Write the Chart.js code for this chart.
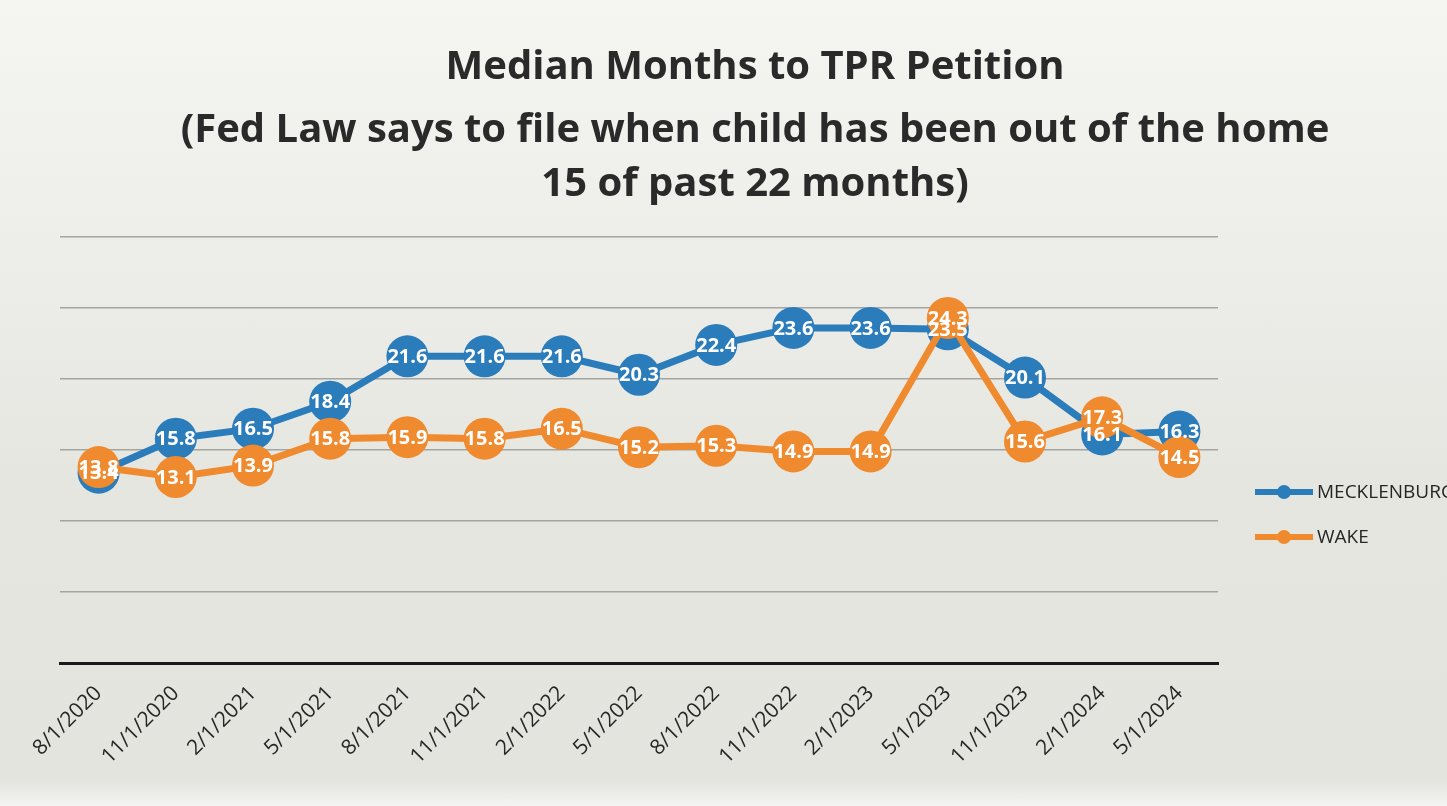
<!DOCTYPE html>
<html>
<head>
<meta charset="utf-8">
<script src="https://cdn.jsdelivr.net/npm/chart.js@4.4.1/dist/chart.umd.min.js"></script>
<style>
  body { margin: 0; background: linear-gradient(#f5f5f2, #e6e6e1 60%, #e4e4df 97%, #f4f4f2); }
  canvas { display: block; }
</style>
</head>
<body>
<canvas id="chart" width="1447" height="806"></canvas>
<script>
// chart data
const titleLines = [
	"Median Months to TPR Petition",
	"(Fed Law says to file when child has been out of the home",
	"15 of past 22 months)"
];
const dates = ["8/1/2020", "11/1/2020", "2/1/2021", "5/1/2021", "8/1/2021", "11/1/2021", "2/1/2022", "5/1/2022",
	"8/1/2022", "11/1/2022", "2/1/2023", "5/1/2023", "11/1/2023", "2/1/2024", "5/1/2024"];
const mecklenburg = [13.4, 15.8, 16.5, 18.4, 21.6, 21.6, 21.6, 20.3, 22.4, 23.6, 23.6, 23.5, 20.1, 16.1, 16.3];
const wake = [13.8, 13.1, 13.9, 15.8, 15.9, 15.8, 16.5, 15.2, 15.3, 14.9, 14.9, 24.3, 15.6, 17.3, 14.5];

const blue = "#2b7cba";
const orange = "#ef8a2e";

// title drawn by hand so it can sit centred over the whole picture
const titlePlugin = {
	id: "bigTitle",
	afterDraw(chart) {
		const ctx = chart.ctx;
		ctx.save();
		ctx.fillStyle = "#2a2a2a";
		ctx.font = "bold 40px 'Open Sans'";
		ctx.textAlign = "center";
		ctx.textBaseline = "middle";
		const ys = [68, 131, 185];
		titleLines.forEach((t, i) => ctx.fillText(t, 755, ys[i]));
		ctx.restore();
	}
};

// white value labels on top of every marker
const valueLabels = {
	id: "valueLabels",
	afterDatasetsDraw(chart) {
		const ctx = chart.ctx;
		ctx.save();
		ctx.fillStyle = "#ffffff";
		ctx.font = "bold 20px 'Open Sans'";
		ctx.textAlign = "center";
		ctx.textBaseline = "middle";
		[0, 1].forEach(di => {
			const meta = chart.getDatasetMeta(di);
			meta.data.forEach((pt, i) => {
				ctx.fillText(chart.data.datasets[di].data[i].toFixed(1), pt.x, pt.y + 1);
			});
		});
		ctx.restore();
	}
};

// legend on the right: line + marker, then the name
const sideLegend = {
	id: "sideLegend",
	afterDraw(chart) {
		const ctx = chart.ctx;
		const ys = [492, 537];
		ctx.save();
		chart.data.datasets.forEach((ds, i) => {
			ctx.strokeStyle = ds.borderColor;
			ctx.fillStyle = ds.borderColor;
			ctx.lineWidth = 6;
			ctx.beginPath();
			ctx.moveTo(1255, ys[i]);
			ctx.lineTo(1313, ys[i]);
			ctx.stroke();
			ctx.beginPath();
			ctx.arc(1284, ys[i], 7, 0, Math.PI * 2);
			ctx.fill();
			ctx.fillStyle = "#262626";
			ctx.font = "19px 'Open Sans'";
			ctx.textBaseline = "middle";
			ctx.fillText(ds.label, 1317, ys[i] + 1);
		});
		ctx.restore();
	}
};

const ctx = document.getElementById("chart").getContext("2d");
new Chart(ctx, {
	type: "line",
	data: {
		labels: dates,
		datasets: [{
			label: "MECKLENBURG",
			data: mecklenburg,
			borderColor: blue,
			backgroundColor: blue,
			borderWidth: 7,
			pointRadius: 21,
			pointHoverRadius: 21,
			pointBorderWidth: 0,
			order: 2
		}, {
			label: "WAKE",
			data: wake,
			borderColor: orange,
			backgroundColor: orange,
			borderWidth: 7,
			pointRadius: 21,
			pointHoverRadius: 21,
			pointBorderWidth: 0,
			order: 1
		}]
	},
	options: {
		responsive: false,
		animation: false,
		layout: { padding: { top: 237, right: 229, left: 0, bottom: 0 } },
		plugins: {
			legend: { display: false },
			tooltip: { enabled: false }
		},
		scales: {
			x: {
				offset: true,
				grid: { display: false, drawTicks: false },
				border: { color: "#1a1a1a", width: 3 },
				ticks: {
					color: "#262626",
					font: { family: "'Open Sans'", size: 21 },
					maxRotation: 45,
					minRotation: 45,
					padding: 18,
					autoSkip: false
				},
				afterFit(scale) { scale.height = 143; }
			},
			y: {
				min: 0,
				max: 30,
				ticks: { display: false, stepSize: 5 },
				grid: { color: "#a4a4a0", lineWidth: 1.5, drawTicks: false },
				border: { display: false },
				afterFit(scale) { scale.width = 60; }
			}
		}
	},
	plugins: [titlePlugin, valueLabels, sideLegend]
});
</script>
</body>
</html>
